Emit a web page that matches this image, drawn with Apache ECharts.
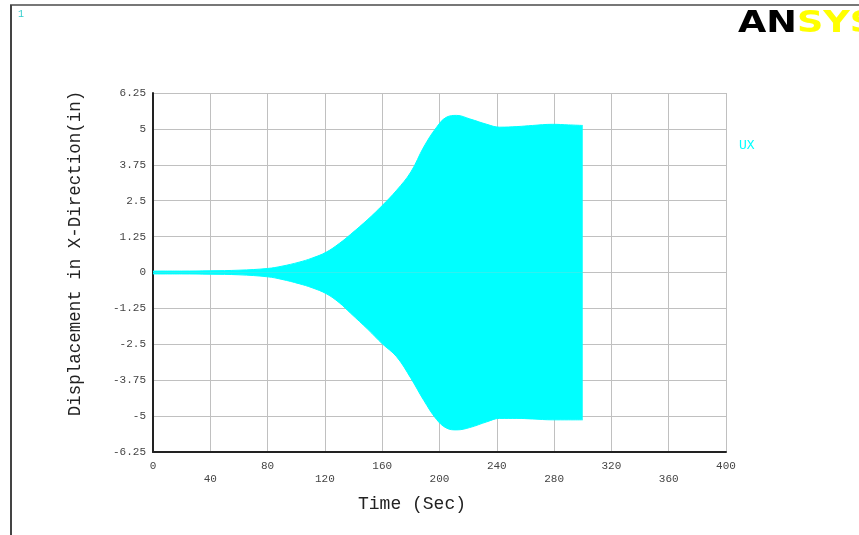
<!DOCTYPE html>
<html>
<head>
<meta charset="utf-8">
<script src="https://cdn.jsdelivr.net/npm/echarts@6/dist/echarts.min.js"></script>
<style>
html,body{margin:0;padding:0;background:#fff;}
#chart{width:859px;height:535px;}
</style>
</head>
<body>
<div id="chart"></div>
<script>
// Time samples (sec) along the response envelope
var timeVals = [0, 20, 40, 60, 80, 90, 102, 111, 121, 130, 138, 150, 160, 170, 180, 189, 198, 205, 212, 221, 233, 242, 254, 265, 279, 290, 300];
// Upper envelope of UX displacement (in)
var upperVals = [0.05, 0.05, 0.06, 0.08, 0.14, 0.22, 0.36, 0.5, 0.71, 1.01, 1.33, 1.85, 2.33, 2.86, 3.5, 4.37, 5.06, 5.41, 5.47, 5.35, 5.16, 5.06, 5.08, 5.12, 5.16, 5.14, 5.12];
// Lower envelope of UX displacement (in)
var lowerVals = [-0.05, -0.05, -0.06, -0.08, -0.15, -0.24, -0.39, -0.53, -0.74, -1.05, -1.42, -1.98, -2.48, -2.93, -3.68, -4.45, -5.12, -5.42, -5.48, -5.4, -5.2, -5.08, -5.08, -5.1, -5.13, -5.13, -5.13];
var seriesName = 'UX';
var xTitle = 'Time (Sec)';
var yTitle = 'Displacement in X-Direction(in)';

var cyan = '#00ffff';
function pairs(vals){ return timeVals.map(function(t,i){ return [t, vals[i]]; }); }
var mono = "'Liberation Mono', 'DejaVu Sans Mono', monospace";

var chart = echarts.init(document.getElementById('chart'), null, {renderer:'canvas'});
chart.setOption({
  animation: false,
  backgroundColor: '#fff',
  grid: {left:153, right:133, top:93, bottom:83, containLabel:false},
  legend: {
    data: [{name: seriesName, icon: 'rect'}],
    left: 729, top: 134, itemWidth: 0, itemHeight: 0, itemGap: 0,
    textStyle: {color: cyan, fontFamily: mono, fontSize: 13},
    selectedMode: false
  },
  xAxis: {
    type: 'value', min: 0, max: 400, interval: 40,
    name: xTitle, nameLocation: 'middle', nameGap: 43,
    nameTextStyle: {fontFamily: mono, fontSize: 18, color: '#222', padding: [0, 55, 0, 0]},
    axisLine: {show: true, onZero: false, lineStyle: {color: '#222', width: 2}},
    axisTick: {show: false},
    axisLabel: {
      fontFamily: mono, fontSize: 11, color: '#444', margin: 8, lineHeight: 13,
      formatter: function(v){ return (Math.round(v/40) % 2 === 1) ? '\n' + v : '' + v; }
    },
    splitLine: {show: true, lineStyle: {color: '#c0c0c0', width: 1}}
  },
  yAxis: {
    type: 'value', min: -6.25, max: 6.25, interval: 1.25,
    name: yTitle, nameLocation: 'middle', nameGap: 69,
    nameTextStyle: {fontFamily: mono, fontSize: 17.5, color: '#222', padding: [0, 0, 0, 38]},
    axisLine: {show: true, onZero: false, lineStyle: {color: '#222', width: 2}},
    axisTick: {show: false},
    axisLabel: {fontFamily: mono, fontSize: 11, color: '#444', margin: 7,
      formatter: function(v){ return '' + v; }},
    splitLine: {show: true, lineStyle: {color: '#c0c0c0', width: 1}}
  },
  series: [
    {
      name: seriesName, type: 'line', data: pairs(upperVals), smooth: 0.4,
      showSymbol: false, lineStyle: {color: cyan, width: 1}, itemStyle: {color: cyan},
      areaStyle: {color: cyan, opacity: 1}, z: 3
    },
    {
      name: seriesName, type: 'line', data: pairs(lowerVals), smooth: 0.4,
      showSymbol: false, lineStyle: {color: cyan, width: 1}, itemStyle: {color: cyan},
      areaStyle: {color: cyan, opacity: 1}, z: 3
    }
  ],
  graphic: [
    {type: 'line', shape: {x1: 10, y1: 5, x2: 859, y2: 5}, style: {stroke: '#777', lineWidth: 2}},
    {type: 'line', shape: {x1: 11, y1: 5, x2: 11, y2: 535}, style: {stroke: '#444', lineWidth: 2}},
    {type: 'text', x: 18, y: 9, style: {text: '1', fill: '#33cccc', font: "10px " + mono}},
    {type: 'text', x: 738, y: 9, scaleX: 1.22, style: {
      text: '{a|AN}{b|SYS}',
      rich: {
        a: {fontFamily: "'DejaVu Sans'", fontWeight: 'bold', fontSize: 30, fill: '#000', color: '#000'},
        b: {fontFamily: "'DejaVu Sans'", fontWeight: 'bold', fontSize: 30, fill: '#ffff00', color: '#ffff00'}
      }
    }}
  ]
});
</script>
</body>
</html>
